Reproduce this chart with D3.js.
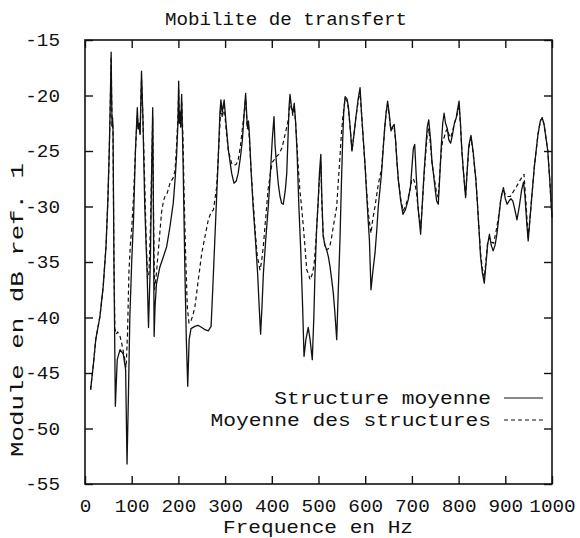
<!DOCTYPE html>
<html>
<head>
<meta charset="utf-8">
<script src="https://cdn.jsdelivr.net/npm/d3@7"></script>
<style>
  body { margin: 0; background: #fff; }
  svg { display: block; }
  text { font-family: "Liberation Mono", "DejaVu Sans Mono", monospace; fill: #111; }
</style>
</head>
<body>
<svg id="chart" width="580" height="538"></svg>
<script>
// ---------- data ----------
const title = "Mobilite de transfert";
const xLabel = "Frequence en Hz";
const yLabel = "Module en dB ref. 1";
const seriesNames = ["Structure moyenne", "Moyenne des structures"];
const xTicks = [0, 100, 200, 300, 400, 500, 600, 700, 800, 900, 1000];
const yTicks = [-55, -50, -45, -40, -35, -30, -25, -20, -15];

// Structure moyenne (solid) : [frequency Hz, dB]
const structureMoyenne = [
[12,-46.5],[18,-44.2],[23,-42],[32,-39.9],[39,-37.2],[45,-33.6],[49,-29.4],[52,-24.9],[54,-21],[56,-16.1],
[57,-20],[58,-22.8],[59,-22],[60,-23],[62,-35],[65,-48],[69,-43.8],[75,-42.9],[82,-43.3],[87,-44.7],
[90,-53.2],[93,-47],[96,-40],[100,-35],[104,-31],[108,-25],[112,-21.1],[114,-23],[116,-22.5],[118,-23.5],
[121,-17.8],[124,-22],[128,-30],[133,-36],[136,-40.9],[140,-35],[143,-26],[145,-21.1],[146.5,-30],[148,-41.7],
[150,-39],[153,-37],[160,-35.5],[168,-34.5],[175,-33.6],[182,-31.8],[189,-29.7],[193,-27.5],[196,-25.5],[199,-22.5],
[200.6,-18.7],[202,-22.5],[204,-21.5],[205,-22.8],[207,-19.9],[210,-26],[214,-36],[217,-42],[220,-46.2],[223,-42],
[227,-41],[235,-40.8],[242,-40.7],[250,-40.9],[257,-41.1],[264,-41.2],[270,-40.8],[274,-37],[278,-33],[282,-29],
[285.5,-25.5],[289,-21.5],[291,-20.4],[294,-21.5],[298,-20.4],[302,-22.5],[307,-24.9],[314,-27],[319,-27.9],[324,-27.7],
[328,-27],[333,-25.5],[337,-24],[341,-21.5],[344,-19.8],[347.5,-22.8],[350,-22.3],[352,-23.5],[356,-27],[360,-30],
[365,-33],[369.6,-36],[373,-39],[376,-41.5],[379,-39],[382,-36],[387,-33],[392.5,-30],[397,-27],[401,-24],
[404.7,-21.9],[407,-24.5],[410.5,-26.4],[414,-28],[417.6,-29.1],[421,-29.7],[424.6,-29.8],[429,-28.5],[432,-27],[435,-23.5],
[437,-21],[439,-19.9],[442,-21],[445,-21.6],[448,-20.7],[451,-22.4],[454,-25],[458,-30],[462,-34],[466,-39],
[469,-43.5],[473,-42],[478,-40.9],[482,-42],[486.7,-43.8],[490,-40],[492.5,-36],[496,-32],[499.5,-29.4],[502,-27],
[505,-25.3],[507,-29],[510,-32.7],[514,-33.5],[517.5,-33.9],[521,-34.5],[524.6,-35.4],[528,-36.5],[531.7,-37.8],[535,-39.5],
[539,-42],[542,-38],[546,-33],[549,-28],[551.8,-24],[554,-21.5],[557,-20.1],[561,-20.3],[564,-21],[567,-22.5],
[571.7,-25],[576,-23.5],[580,-22],[585,-20.3],[589,-19.3],[592,-21.5],[596,-24],[600,-26.5],[603,-28.8],[606,-31],
[609,-33],[612.4,-37.5],[616,-36],[621,-34.2],[625,-32],[628,-30],[632,-28.3],[635,-27],[639,-24.5],[642,-22.8],
[645,-21.5],[648,-20.5],[651,-21.5],[655,-23.1],[659,-22.8],[662,-22.6],[665,-24],[668,-26],[671,-27.6],[676,-29.5],
[681,-30.7],[686,-30.3],[692,-29.4],[697,-28.2],[700,-26.5],[703,-24.8],[706,-24.4],[709,-27],[713,-30],[718.7,-32.5],
[722,-30],[726,-27],[730,-24.5],[733,-22.8],[736,-22.2],[740,-24],[743,-26],[746,-27],[750,-28.5],[753,-29.5],
[756.5,-29.8],[760,-27],[763,-24.5],[766,-22.5],[769,-21.6],[772,-22.5],[776,-23],[779,-24],[783,-24.3],[787,-23.5],
[791,-22.5],[795,-22],[798,-21.2],[801,-20.5],[804,-22.5],[807,-25],[810,-26.7],[815,-29.2],[818,-27],[822,-24.5],
[826.5,-23.6],[831,-25],[837,-27.6],[840,-29.5],[843.7,-32.1],[847,-34.5],[851,-36],[855,-36.9],[859,-35],[862,-33.5],
[866,-32.5],[870,-33.5],[874,-34],[878,-33.5],[882,-32.5],[886,-31],[890,-29.5],[893,-28.8],[896,-28.3],[900,-29.3],
[904,-29.8],[908,-29.5],[912,-29.3],[916,-29.5],[920,-30.2],[925,-31.2],[930,-30],[935,-28.5],[939,-27.8],[942,-29],
[946,-31.5],[949,-33.1],[953,-31],[958,-28.5],[962,-26.5],[966,-25],[970,-23.5],[975,-22.3],[979,-22],[983,-22.6],
[987,-23.8],[991,-25],[995,-27.5],[1000,-31]
];

// Moyenne des structures (dashed) : [frequency Hz, dB]
const moyenneStructures = [
[12,-46.5],[18,-44.2],[23,-42],[32,-39.9],[39,-37.2],[45,-33.6],[49,-29.4],[52,-24.9],[54,-21],[56,-16.5],
[57,-20],[58,-22.8],[59,-22.3],[60,-23.5],[62,-35],[64,-41],[67,-41.5],[70,-41.3],[75,-41.7],[79,-42.4],
[84,-43.5],[88,-44.5],[91,-41.5],[94,-36],[97,-33.5],[100,-32],[104,-29],[108,-25],[112,-21.8],[114,-23],
[116,-22.8],[118,-23.5],[121,-18.5],[124,-22],[128,-28],[131,-33],[134,-36.5],[137,-36],[140,-32],[143,-26],
[145,-22],[146.5,-30],[149,-37.5],[153,-36],[157,-34],[160,-32.5],[164,-30.5],[168,-29.5],[172,-29],[176,-28.8],
[182,-27.9],[189,-27.4],[193,-26.7],[196,-24.5],[199,-22],[200.6,-19.5],[202,-22.5],[204,-21.8],[205,-23],[207,-20.5],
[210,-24],[212,-28.5],[215.6,-34.5],[219,-39],[222.6,-40.5],[227,-40.3],[231,-39.8],[235.5,-39],[242.6,-36.6],[250,-34.2],
[257,-32.7],[264,-31.2],[270,-30.5],[275,-30.3],[282,-28.2],[286,-25],[289,-22.5],[291,-21],[294,-22],[298,-21],
[302,-23],[307,-25],[314,-26.1],[319,-26.3],[324,-26.2],[328,-25.8],[333,-24.5],[337,-23],[341,-21.5],[344,-20.3],
[347.5,-23],[350,-22.6],[352,-24],[356,-27],[360,-29.5],[365,-32.5],[369,-34.5],[374.7,-35.7],[378,-35],[382,-33.5],
[387,-31],[392,-28.5],[397,-27],[401,-26],[405,-25.8],[410,-25.5],[415,-25.3],[422,-24.7],[429,-23.4],[434,-22.5],
[437,-21.5],[439,-20.5],[442,-21.2],[445,-21.8],[448,-21],[451,-22.5],[454,-24.5],[456.6,-26.4],[460,-28.5],[463.7,-30],
[467.5,-31.8],[471,-33.6],[474.7,-35.7],[478,-36],[482,-36.6],[487.5,-36],[491,-35],[494.6,-33],[499.5,-29.4],[502,-27.5],
[505,-26],[507,-29.5],[510,-32.5],[514,-33.7],[517.5,-33.9],[521,-33.8],[524.6,-33.5],[528,-32.8],[531.7,-31.8],[535,-31],
[539,-30],[542,-28],[546,-25.5],[549,-23.5],[552,-22],[557,-20.3],[561,-20.5],[564,-21.2],[567,-22.5],[571.7,-25],
[576,-23.5],[580,-22],[585,-20.5],[589,-19.6],[592,-21.5],[596,-24],[600,-26.5],[603,-28.5],[606.6,-30.6],[612.4,-32.4],
[616,-31.2],[621,-30],[628,-28],[635,-26.6],[639,-24.5],[642,-22.8],[645,-21.5],[648,-20.8],[651,-21.7],[655,-23.2],
[659,-22.9],[662,-22.8],[665,-24],[668,-26],[671,-27.6],[676,-29.3],[681,-30.4],[686,-30],[692,-29.2],[697,-28.3],
[700,-27.5],[703,-27.5],[706,-27.8],[710,-28.8],[714,-30.5],[718.7,-32],[722,-30],[726,-27.3],[730,-25],[733,-23.5],
[736,-23],[740,-24.5],[743,-26],[746,-27],[750,-28],[753,-28.8],[756.5,-29.2],[760,-26.8],[763,-25],[766,-24],
[769,-23.8],[772,-23.3],[776,-23],[779,-23.5],[783,-23.8],[787,-23.2],[791,-22.5],[795,-22],[798,-21.5],[801,-21],
[804,-22.7],[807,-25],[810,-26.7],[815,-29],[818,-27],[822,-24.7],[826.5,-23.8],[831,-25.2],[837,-27.6],[840,-29.5],
[843.7,-32],[847,-34.2],[851,-35.6],[855,-36.4],[859,-34.7],[862,-33.3],[866,-32.8],[870,-33.2],[875,-33.3],[880,-32.3],
[886,-30.8],[890,-29.5],[893,-28.8],[896,-28.6],[899,-28.8],[904,-29.1],[911,-29.1],[918,-28.6],[924,-28.2],[932,-27.6],
[940,-27.1],[944,-29.5],[949,-32.8],[953,-31],[958,-28.5],[962,-26.5],[966,-25],[970,-23.5],[975,-22.3],[979,-22],
[983,-22.6],[987,-23.8],[991,-25],[995,-27.5],[1000,-31]
];

// ---------- layout ----------
const svg = d3.select("#chart");
const X0 = 85, X1 = 552, Y0 = 40, Y1 = 484;
const x = d3.scaleLinear().domain([0, 1000]).range([X0, X1]);
const y = d3.scaleLinear().domain([-55, -15]).range([Y1, Y0]);
const ink = "#111";
const tickLen = 8;
const FONT = '"Liberation Mono", "DejaVu Sans Mono", monospace';

// curves
const line = d3.line().x(d => x(d[0])).y(d => y(d[1])).curve(d3.curveLinear);
svg.append("path").datum(structureMoyenne)
  .attr("d", line).attr("fill", "none").attr("stroke", ink)
  .attr("stroke-width", 1.3).attr("stroke-linejoin", "round");
svg.append("path").datum(moyenneStructures)
  .attr("d", line).attr("fill", "none").attr("stroke", ink)
  .attr("stroke-width", 1.2).attr("stroke-dasharray", "4,3").attr("stroke-linejoin", "round");

// axes with inward ticks
const bottomAxis = d3.axisBottom(x).tickValues(xTicks).tickSizeInner(-tickLen).tickSizeOuter(0)
  .tickPadding(tickLen + 7).tickFormat(d => String(d));
const topAxis = d3.axisTop(x).tickValues(xTicks).tickSizeInner(-tickLen).tickSizeOuter(0).tickFormat("");
const leftAxis = d3.axisLeft(y).tickValues(yTicks).tickSizeInner(-tickLen).tickSizeOuter(0)
  .tickPadding(tickLen + 17).tickFormat(d => String(d));
const rightAxis = d3.axisRight(y).tickValues(yTicks).tickSizeInner(-tickLen).tickSizeOuter(0).tickFormat("");

function styleAxis(g) {
  g.select(".domain").remove();
  g.selectAll(".tick line").attr("stroke", ink).attr("stroke-width", 1.4);
  g.selectAll("text").attr("fill", ink).style("font-family", FONT).style("font-size", "18px")
    .each(function () {
      const t = d3.select(this);
      const n = t.text().length;
      if (n) t.attr("textLength", n * 11.6).attr("lengthAdjust", "spacingAndGlyphs");
    });
}
svg.append("g").attr("transform", `translate(0,${Y1})`).call(bottomAxis).call(styleAxis);
svg.append("g").attr("transform", `translate(0,${Y0})`).call(topAxis).call(styleAxis);
svg.append("g").attr("transform", `translate(${X0},0)`).call(leftAxis).call(styleAxis);
svg.append("g").attr("transform", `translate(${X1},0)`).call(rightAxis).call(styleAxis);

// frame
svg.append("rect").attr("x", X0).attr("y", Y0).attr("width", X1 - X0).attr("height", Y1 - Y0)
  .attr("fill", "none").attr("stroke", ink).attr("stroke-width", 1.6);

// title and axis labels
svg.append("text").attr("x", 286).attr("y", 25).attr("text-anchor", "middle")
  .style("font-size", "18px").attr("textLength", 242).attr("lengthAdjust", "spacingAndGlyphs").text(title);
svg.append("text").attr("x", 318).attr("y", 533).attr("text-anchor", "middle")
  .style("font-size", "18px").attr("textLength", 190).attr("lengthAdjust", "spacingAndGlyphs").text(xLabel);
svg.append("text").attr("transform", "translate(23,310) rotate(-90)").attr("text-anchor", "middle")
  .style("font-size", "18px").attr("textLength", 294).attr("lengthAdjust", "spacingAndGlyphs").text(yLabel);

// legend
const legendRows = [
  { name: seriesNames[0], dash: null, y: 398 },
  { name: seriesNames[1], dash: "4,3", y: 420 }
];
const lg = svg.append("g");
legendRows.forEach(r => {
  lg.append("text").attr("x", 491).attr("y", r.y + 6).attr("text-anchor", "end")
    .style("font-size", "19px").attr("textLength", r.name.length * 12.75)
    .attr("lengthAdjust", "spacingAndGlyphs").text(r.name);
  lg.append("line").attr("x1", 504).attr("x2", 543).attr("y1", r.y).attr("y2", r.y)
    .attr("stroke", ink).attr("stroke-width", 1.2).attr("stroke-dasharray", r.dash);
});
</script>
</body>
</html>
